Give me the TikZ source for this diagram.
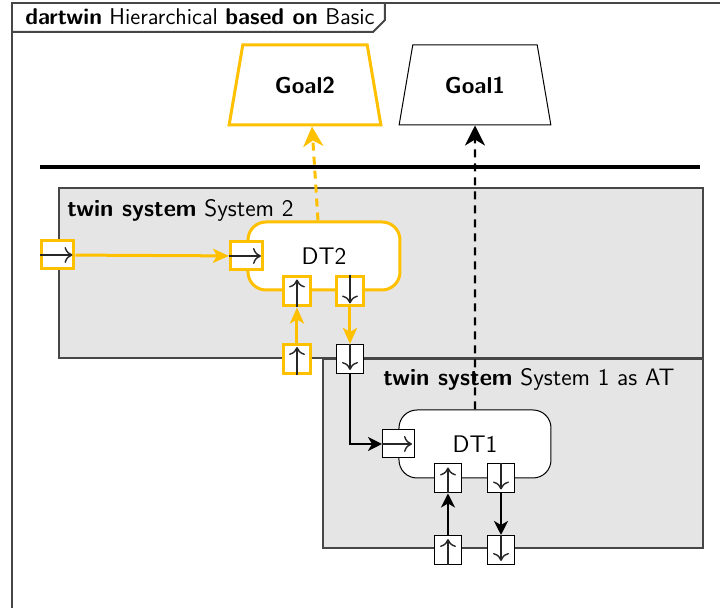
\documentclass[tikz,border=0pt]{standalone}
\usetikzlibrary{arrows.meta,positioning,calc,shapes.geometric}
\definecolor{dtyellow}{RGB}{255,192,0}
\definecolor{sysgray}{RGB}{229,229,229}
\definecolor{framegray}{RGB}{70,70,70}
\tikzset{%
  frame/.style={draw=framegray, line width=1pt},
  sysbox/.style={draw=framegray, fill=sysgray, line width=0.6pt},
  syslabel/.style={anchor=north west, inner sep=0pt, font=\sffamily\fontsize{11.9}{13}\selectfont},
  twin/.style={draw, fill=white, rounded corners=9pt, minimum width=76pt, minimum height=34pt, font=\sffamily\fontsize{12}{14}\selectfont},
  goal/.style={draw, fill=white, trapezium, trapezium left angle=75, trapezium right angle=75, trapezium stretches=true, minimum width=76pt, minimum height=40pt, font=\sffamily\bfseries\fontsize{11.5}{13}\selectfont},
  hport/.style={draw, fill=white, minimum width=16pt, minimum height=14pt, inner sep=0pt},
  vport/.style={draw, fill=white, minimum width=13.5pt, minimum height=14.5pt, inner sep=0pt},
  yel/.style={draw=dtyellow, line width=1.5pt},
  blk/.style={draw=black, line width=0.5pt},
  sym/.style={draw=black!85, line width=0.7pt, -{To[length=4pt,width=8pt]}},
  yline/.style={draw=dtyellow, line width=1.5pt, -{Stealth[length=8pt,width=7pt,inset=2pt]}},
  bline/.style={draw=black, line width=1pt, -{Stealth[length=7pt,width=7pt,inset=2pt]}},
  goalline/.style={line width=1.2pt, dash pattern=on 4pt off 3pt, -{Stealth[length=10pt,width=10pt,inset=3pt]}},
}
\begin{document}
\begin{tikzpicture}[x=0.5pt, y=-0.5pt, font=\sffamily]
\useasboundingbox (0,0) rectangle (720,608);
% frame and its header
\draw[frame] (12,620) -- (12,3) -- (730,3);
\node[anchor=west, inner sep=0pt, font=\sffamily\fontsize{11.4}{13}\selectfont] (hdr) at (25,17)
  {\textbf{dartwin} Hierarchical \textbf{based on} Basic};
\draw[frame] (12,32) -- (373,32) -- (385,20) -- (385,3);
% goals
\node[goal, yel] (goal2) at (305,85) {Goal2};
\node[goal, blk] (goal1) at (475,85) {Goal1};
\draw[line width=2pt] (40,167) -- (700,167);
% systems
\node[sysbox, minimum width=322pt, minimum height=85pt] (sys2) at (381,273) {};
\node[syslabel] (sys2lbl) at (67,199) {\textbf{twin system} System 2};
\node[sysbox, minimum width=190pt, minimum height=94.5pt] (sys1) at (513,453.5) {};
\node[syslabel] (sys1lbl) at (383,368) {\textbf{twin system} System 1 as AT};
% twins
\node[twin, yel] (dt2) at (324,256) {DT2};
\node[twin, blk] (dt1) at (475,444) {DT1};
% ports
\node[hport, yel] (s2in) at (58,255) {};
\node[hport, yel] (dt2in) at (dt2.west) {};
\node[vport, yel] (dt2up) at ($(dt2.south)+(-27,0)$) {};
\node[vport, yel] (dt2dn) at ($(dt2.south)+(26,0)$) {};
\node[vport, yel] (s2up) at (297,359) {};
\node[vport, blk] (s2out) at (350,359) {};
\node[hport, blk] (dt1in) at (dt1.west) {};
\node[vport, blk] (dt1up) at ($(dt1.south)+(-27,0)$) {};
\node[vport, blk] (dt1dn) at ($(dt1.south)+(26,0)$) {};
\node[vport, blk] (s1up) at (448,550) {};
\node[vport, blk] (s1dn) at (501,550) {};
% port symbols
\foreach \p in {s2in,dt2in,dt1in}
  \draw[sym] (\p.west) -- ([xshift=-1.5pt]\p.east);
\foreach \p in {dt2up,s2up,dt1up,s1up}
  \draw[sym] (\p.south) -- ([yshift=-2pt]\p.north);
\foreach \p in {dt2dn,s2out,dt1dn,s1dn}
  \draw[sym] (\p.north) -- ([yshift=2pt]\p.south);
% flows
\draw[yline] (s2in) -- (dt2in);
\draw[yline] (s2up) -- (dt2up);
\draw[yline] (dt2dn) -- (s2out);
\draw[bline] (s2out.south) |- (dt1in.west);
\draw[bline] (s1up) -- (dt1up);
\draw[bline] (dt1dn) -- (s1dn);
\draw[goalline, draw=dtyellow, line width=1.5pt] ($(dt2.north)+(-6,0)$) -- ($(goal2.south)+(7,0)$);
\draw[goalline] (dt1.north) -- (goal1.south);
\end{tikzpicture}
\end{document}
